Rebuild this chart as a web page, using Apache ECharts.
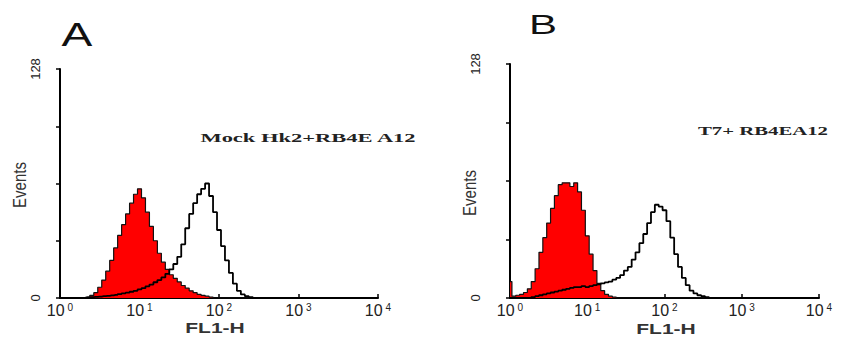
<!DOCTYPE html>
<html>
<head>
<meta charset="utf-8">
<script src="https://cdn.jsdelivr.net/npm/echarts@6/dist/echarts.min.js"></script>
<style>
  html, body { margin: 0; padding: 0; background: #fff; }
  #chart { width: 849px; height: 340px; }
</style>
</head>
<body>
<div id="chart"></div>
<script>
// FL1-H bin positions, in decades (10^0 .. 10^4 axis)
const decades = [
  0.00, 0.05, 0.10, 0.15, 0.20, 0.25, 0.30, 0.35, 0.40, 0.45,
  0.50, 0.55, 0.60, 0.65, 0.70, 0.75, 0.80, 0.85, 0.90, 0.95,
  1.00, 1.05, 1.10, 1.15, 1.20, 1.25, 1.30, 1.35, 1.40, 1.45,
  1.50, 1.55, 1.60, 1.65, 1.70, 1.75, 1.80, 1.85, 1.90, 1.95,
  2.00, 2.05, 2.10, 2.15, 2.20, 2.25, 2.30, 2.35, 2.40, 2.45,
  2.50, 2.55, 2.60
];

// panel A: control (filled red) and Mock Hk2+RB4EA12 (open)
const controlA = [
  0, 0, 0, 0, 0, 0, 0, 0.5, 1.5, 3,
  6, 10, 15, 21, 28, 35, 41, 47, 53, 58,
  61, 56, 48, 40, 32, 25, 20, 16, 13, 11,
  9, 7, 5.5, 4, 3, 2, 1.5, 1, 0.5, 0,
  0, 0, 0, 0, 0, 0, 0, 0, 0, 0,
  0, 0, 0
];
const stainedA = [
  0, 0, 0, 0, 0, 0, 0, 0.3, 0.5, 0.6,
  0.8, 1, 1.2, 1.5, 1.8, 2.2, 2.6, 3, 3.5, 4,
  4.8, 5.5, 6.5, 7.5, 8.8, 10, 11.5, 13.5, 16, 19,
  23, 30, 39, 47, 53, 58, 61, 64, 57, 48,
  38, 29, 21, 14, 8, 4, 2, 1, 0.5, 0,
  0, 0, 0
];

// panel B: control (filled red) and T7+ RB4EA12 (open)
const controlB = [
  9, 1, 1.5, 2, 3, 5, 9, 16, 25, 33,
  41, 49, 56, 62, 63, 63, 61, 63, 58, 48,
  34, 24, 15, 8, 4, 2, 1, 0.5, 0, 0,
  0, 0, 0, 0, 0, 0, 0, 0, 0, 0,
  0, 0, 0, 0, 0, 0, 0, 0, 0, 0,
  0, 0, 0
];
const stainedB = [
  0, 0, 0, 0, 0, 0, 0.5, 1, 1.5, 2,
  2.5, 3, 3.5, 4, 4.5, 5, 5.5, 6, 6, 6.5,
  6, 6.5, 7, 7.5, 8, 8.5, 9, 10, 11, 12.5,
  15, 17, 21, 25, 30, 35, 41, 47, 51, 50,
  48, 42, 33, 24, 17, 11, 7, 4, 2.5, 1.5,
  1, 0.5, 0
];

const xExponents = ["0", "1", "2", "3", "4"];
const yTicks = [0, 128];

const chart = echarts.init(document.getElementById("chart"), null, { renderer: "svg" });

const pair = (ys) => decades.map((x, i) => [x, ys[i]]);

function xAxisFor(gridIndex) {
  return {
    gridIndex,
    type: "value",
    min: 0,
    max: 4,
    interval: 1,
    axisLine: { lineStyle: { color: "#000", width: 2 } },
    axisTick: { inside: true, length: 4, lineStyle: { color: "#000", width: 1.5 } },
    axisLabel: {
      formatter: (v) => `{b|10}{s|${xExponents[Math.round(v)]}}`,
      margin: 4,
      rich: {
        b: { fontSize: 16, fontFamily: "Liberation Sans", color: "#222" },
        s: { fontSize: 10, fontFamily: "Liberation Sans", color: "#222", verticalAlign: "top", padding: [0, 0, 0, 3] },
      },
    },
    splitLine: { show: false },
  };
}

function yAxisFor(gridIndex, margin) {
  return {
    gridIndex,
    type: "value",
    min: 0,
    max: 128,
    interval: 32,
    axisLine: { show: true, lineStyle: { color: "#000", width: 2 } },
    axisTick: { show: true, length: 4, lineStyle: { color: "#000", width: 1.5 } },
    axisLabel: {
      rotate: 90,
      formatter: (v) => (yTicks.includes(v) ? String(v) : ""),
      fontSize: 13,
      fontFamily: "Liberation Sans",
      color: "#222",
      margin,
    },
    splitLine: { show: false },
  };
}

function filled(idx, ys) {
  return {
    type: "line",
    xAxisIndex: idx,
    yAxisIndex: idx,
    step: "middle",
    symbol: "none",
    data: pair(ys),
    lineStyle: { color: "#111", width: 1.2 },
    areaStyle: { color: "#ff0000", opacity: 1 },
    z: 2,
  };
}

function open(idx, ys) {
  return {
    type: "line",
    xAxisIndex: idx,
    yAxisIndex: idx,
    step: "middle",
    symbol: "none",
    data: pair(ys),
    lineStyle: { color: "#000", width: 1.8 },
    z: 3,
  };
}

function label(text, x, y, size, opts = {}) {
  return {
    type: "text",
    x,
    y,
    rotation: opts.rotation || 0,
    scaleX: opts.scaleX || 1,
    scaleY: opts.scaleY || 1,
    style: {
      text,
      fontSize: size,
      fontFamily: opts.family || "Liberation Sans",
      fontWeight: opts.weight || "normal",
      fill: opts.color || "#222",
      textAlign: "center",
      textVerticalAlign: "middle",
    },
  };
}

const option = {
  backgroundColor: "#fff",
  animation: false,
  grid: [
    { left: 60, top: 69, width: 318, height: 229 },
    { left: 510, top: 64, width: 309, height: 234 },
  ],
  xAxis: [xAxisFor(0), xAxisFor(1)],
  yAxis: [yAxisFor(0, 18), yAxisFor(1, 28)],
  series: [
    filled(0, controlA),
    open(0, stainedA),
    filled(1, controlB),
    open(1, stainedB),
  ],
  graphic: [
    label("A", 77, 35, 33, { scaleX: 1.4, color: "#111" }),
    label("B", 543, 25, 28, { scaleX: 1.5, color: "#111" }),
    label("Mock Hk2+RB4E A12", 308, 138, 12.5, { family: "Liberation Serif", weight: "bold", scaleX: 1.8 }),
    label("T7+ RB4EA12", 763, 131, 12, { family: "Liberation Serif", weight: "bold", scaleX: 1.73 }),
    label("FL1-H", 215, 328, 14, { weight: "bold", scaleX: 1.5, color: "#333" }),
    label("FL1-H", 666, 329, 14, { weight: "bold", scaleX: 1.5, color: "#333" }),
    label("Events", 20, 185, 15, { rotation: Math.PI / 2, scaleY: 1.2, color: "#333" }),
    label("Events", 470, 193, 15, { rotation: Math.PI / 2, scaleY: 1.2, color: "#333" }),
  ],
};

chart.setOption(option);
window.addEventListener("resize", () => chart.resize());
</script>
</body>
</html>
